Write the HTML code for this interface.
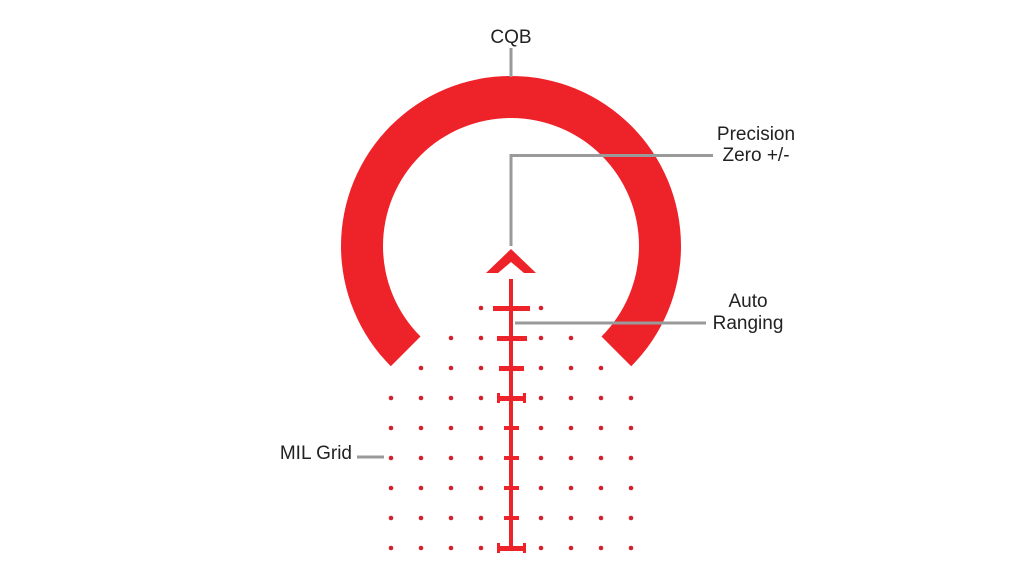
<!DOCTYPE html>
<html><head><style>html,body{margin:0;padding:0;background:#fff;}svg{display:block}</style></head>
<body>
<svg width="1024" height="575" viewBox="0 0 1024 575" xmlns="http://www.w3.org/2000/svg" font-family="'Liberation Sans', sans-serif" font-size="19" fill="#222">
<rect width="1024" height="575" fill="#fff"/>
<path d="M 390.8 366.2 A 170 170 0 1 1 631.2 366.2 L 601.5 336.5 A 128 128 0 1 0 420.5 336.5 Z" fill="#ee2229"/>
<path d="M511 249 L536 273 L524 273 L511 262 L498 273 L486 273 Z" fill="#ee2229"/>
<rect x="509" y="279" width="4" height="271" fill="#ee2229"/>
<g fill="#ee2229">
<rect x="493" y="306" width="37" height="5"/>
<rect x="497" y="336" width="30" height="5"/>
<rect x="499" y="366" width="25" height="5"/>
<rect x="497" y="396" width="29" height="5"/><rect x="497" y="393" width="3" height="10"/><rect x="523" y="393" width="3" height="10"/>
<rect x="504" y="426" width="15" height="4"/>
<rect x="504" y="456" width="15" height="4"/>
<rect x="504" y="486" width="15" height="4"/>
<rect x="504" y="516" width="15" height="4"/>
<rect x="497" y="546" width="29" height="5"/><rect x="497" y="543" width="3" height="10"/><rect x="523" y="543" width="3" height="10"/>
</g>
<g fill="#d4202a">
<circle cx="481" cy="308" r="2.3"/><circle cx="541" cy="308" r="2.3"/>
<circle cx="451" cy="338" r="2.3"/><circle cx="481" cy="338" r="2.3"/><circle cx="541" cy="338" r="2.3"/><circle cx="571" cy="338" r="2.3"/>
<circle cx="421" cy="368" r="2.3"/><circle cx="451" cy="368" r="2.3"/><circle cx="481" cy="368" r="2.3"/><circle cx="541" cy="368" r="2.3"/><circle cx="571" cy="368" r="2.3"/><circle cx="601" cy="368" r="2.3"/>
</g>
<g fill="#d4202a" id="rows">
</g>
<script>
var g=document.getElementById('rows');
for(var y=398;y<=548;y+=30){[391,421,451,481,541,571,601,631].forEach(function(x){var c=document.createElementNS('http://www.w3.org/2000/svg','circle');c.setAttribute('cx',x);c.setAttribute('cy',y);c.setAttribute('r',2.3);g.appendChild(c);});}
</script>
<g stroke="#9a9a9a" stroke-width="3" fill="none">
<line x1="511" y1="48" x2="511" y2="77"/>
<polyline points="511,246 511,155.5 713,155.5"/>
<line x1="515" y1="323" x2="706" y2="323"/>
<line x1="357" y1="457" x2="384" y2="457"/>
</g>
<text x="511" y="43" text-anchor="middle">CQB</text>
<text x="756" y="140" text-anchor="middle">Precision</text>
<text x="756" y="161" text-anchor="middle">Zero +/-</text>
<text x="748" y="307" text-anchor="middle">Auto</text>
<text x="748" y="329" text-anchor="middle">Ranging</text>
<text x="352" y="459" text-anchor="end">MIL Grid</text>
</svg>
</body></html>
